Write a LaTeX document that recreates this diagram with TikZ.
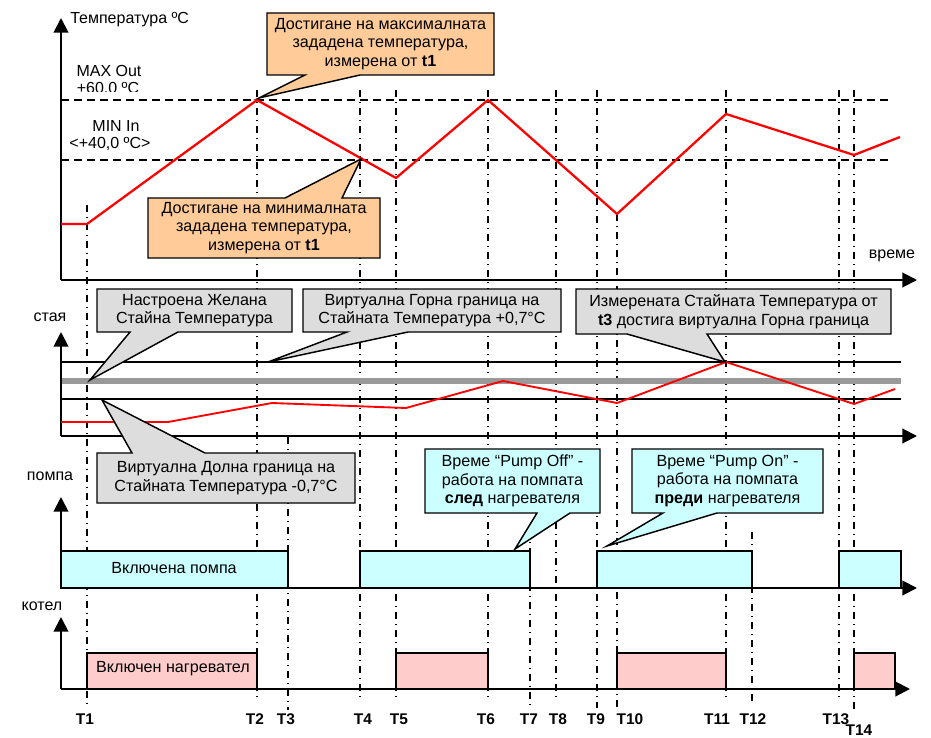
\documentclass[tikz,border=0pt]{standalone}
\usepackage{fontspec}
\setmainfont{Liberation Sans}
\usetikzlibrary{arrows.meta}
\definecolor{orangeF}{HTML}{FFCC99}
\definecolor{grayF}{HTML}{DDDDDD}
\definecolor{cyanF}{HTML}{CCFFFF}
\definecolor{pinkF}{HTML}{FFCCCC}
\definecolor{grayL}{HTML}{999999}
\definecolor{redL}{HTML}{FF0000}
\begin{document}
\begin{tikzpicture}[x=0.75pt,y=-0.75pt,
  axis/.style={line width=1.5pt,-{Triangle[length=11pt,width=11pt]}},
  hdash/.style={line width=1.1pt,dash pattern=on 6pt off 3.75pt},
  vline/.style={line width=1pt,dash pattern=on 5.5pt off 3.5pt on 1pt off 3.5pt},
  curve/.style={line width=1.7pt,redL,line join=round},
  callout/.style={line width=1.1pt,line join=miter},
  ctext/.style={align=center,font=\fontsize{12.1pt}{13.9pt}\selectfont,inner sep=0pt},
  lbl/.style={font=\fontsize{12pt}{13pt}\selectfont,inner sep=0pt},
  tlbl/.style={font=\fontsize{11.6pt}{12pt}\selectfont\bfseries,inner sep=0pt},
  boxline/.style={line width=1.1pt}
]
\useasboundingbox (0,0) rectangle (931,738);

% ---- vertical dash-dot time lines
\draw[vline] (87,205) -- (87,705);
\draw[vline] (257,90) -- (257,702);
\draw[vline] (288,437) -- (288,710);
\draw[vline] (360,90) -- (360,702);
\draw[vline] (396,90) -- (396,702);
\draw[vline] (488,90) -- (488,702);
\draw[vline] (530,530) -- (530,708);
\draw[vline] (556,90) -- (556,702);
\draw[vline] (597,90) -- (597,708);
\draw[vline] (617,214) -- (617,708);
\draw[vline] (726,90) -- (726,702);
\draw[vline] (752,532) -- (752,702);
\draw[vline] (839,90) -- (839,702);
\draw[vline] (854,90) -- (854,710);

% ---- top chart
\coordinate (o1) at (61,280);
\coordinate (y1) at (61,18);
\coordinate (x1) at (917,280);
\draw[hdash] (61,100) -- (893,100);
\draw[hdash] (61,160) -- (893,160);
\draw[axis] (o1) -- (y1);
\draw[axis] (o1) -- (x1);
\draw[curve] (61,224) -- (87,224) -- (257,100) -- (396,178) -- (488,100) -- (617,214) -- (726,114) -- (854,155) -- (900,137);

\node[lbl,anchor=west] (tlab) at (70,20) {Температура ºC};
\node[lbl] (maxa) at (109,71) {MAX Out};
\begin{scope}
\clip (60,60) rectangle (160,92);
\node[lbl] (maxb) at (108,89) {+60,0 ºC};
\end{scope}
\node[lbl] (mina) at (116,126) {MIN In};
\node[lbl] (minb) at (110,144) {<+40,0 ºC>};
\node[lbl] (vreme) at (892,256) {време};

% orange callouts
\draw[callout,fill=orangeF] (267,13) -- (494,13) -- (494,75) -- (360,75) -- (259,98) -- (305,75) -- (267,75) -- cycle;
\node[ctext] (c1) at (380.5,44) {Достигане на максималната\\зададена температура,\\измерена от \textbf{t1}};
\draw[callout,fill=orangeF] (148,198) -- (285,198) -- (361,159) -- (342,198) -- (380,198) -- (380,258) -- (148,258) -- cycle;
\node[ctext] (c2) at (264,228) {Достигане на минималната\\зададена температура,\\измерена от \textbf{t1}};

% ---- middle chart (room)
\coordinate (o2) at (61,436);
\coordinate (y2) at (61,332);
\coordinate (x2) at (917,436);
\draw[line width=1.5pt] (61,362) -- (901,362);
\draw[line width=4.5pt,grayL] (61,381) -- (901,381);
\draw[line width=1.5pt] (61,399) -- (901,399);
\draw[axis] (o2) -- (y2);
\draw[axis] (o2) -- (x2);
\draw[curve,line width=1.4pt] (61,422) -- (168,422) -- (272,403) -- (406,408) -- (503,381) -- (617,403) -- (726,362) -- (854,404) -- (895,389);
\node[lbl] (staya) at (50,317) {стая};

\draw[callout,fill=grayF] (97,289) -- (292,289) -- (292,332) -- (178,332) -- (90,380) -- (130,332) -- (97,332) -- cycle;
\node[ctext] (c3) at (194.5,310.5) {Настроена Желана\\Стайна Температура};
\draw[callout,fill=grayF] (303,289) -- (561,289) -- (561,332) -- (408,332) -- (268,362) -- (347,332) -- (303,332) -- cycle;
\node[ctext] (c4) at (432,310.5) {Виртуална Горна граница на\\Стайната Температура +0,7°C};
\draw[callout,fill=grayF] (576,289) -- (891,289) -- (891,334) -- (707,334) -- (725,362) -- (627,334) -- (576,334) -- cycle;
\node[ctext] (c5) at (733.5,311.5) {Измерената Стайната Температура от\\\textbf{t3} достига виртуална Горна граница};
\draw[callout,fill=grayF] (97,453) -- (132,453) -- (102,400) -- (205,453) -- (355,453) -- (355,503) -- (97,503) -- cycle;
\node[ctext] (c6) at (226,478) {Виртуална Долна граница на\\Стайната Температура -0,7°C};

% ---- pump chart
\node[lbl] (pompa) at (50,476) {помпа};
\draw[boxline,fill=cyanF] (61,551) rectangle (288,588);
\draw[boxline,fill=cyanF] (360,551) rectangle (530,588);
\draw[boxline,fill=cyanF] (597,551) rectangle (752,588);
\draw[boxline,fill=cyanF] (839,551) rectangle (901,588);
\node[ctext] (pon) at (174,568) {Включена помпа};
\coordinate (o3) at (61,588);
\coordinate (y3) at (61,497);
\coordinate (x3) at (917,588);
\draw[axis] (o3) -- (y3);
\draw[axis] (o3) -- (x3);

\draw[callout,fill=cyanF] (425,449) -- (600,449) -- (600,513) -- (570,513) -- (515,549) -- (537,513) -- (425,513) -- cycle;
\node[ctext] (c7) at (512.5,481) {Време “Pump Off” -\\работа на помпата\\\textbf{след} нагревателя};
\draw[callout,fill=cyanF] (632,449) -- (823,449) -- (823,513) -- (717,513) -- (607,546) -- (663,513) -- (632,513) -- cycle;
\node[ctext] (c8) at (727.5,481) {Време “Pump On” -\\работа на помпата\\\textbf{преди} нагревателя};

% ---- boiler chart
\node[lbl] (kotel) at (42,606) {котел};
\draw[boxline,fill=pinkF] (87,653) rectangle (257,689);
\draw[boxline,fill=pinkF] (396,653) rectangle (488,689);
\draw[boxline,fill=pinkF] (617,653) rectangle (726,689);
\draw[boxline,fill=pinkF] (854,653) rectangle (895,689);
\node[ctext] (hon) at (173,669) {Включен нагревател};
\coordinate (o4) at (61,689);
\coordinate (y4) at (61,617);
\coordinate (x4) at (910,689);
\draw[axis] (o4) -- (y4);
\draw[axis] (o4) -- (x4);

% ---- time labels
\node[tlbl] (T1) at (85,719) {T1};
\node[tlbl] (T2) at (255,719) {T2};
\node[tlbl] (T3) at (286,719) {T3};
\node[tlbl] (T4) at (363,719) {T4};
\node[tlbl] (T5) at (399,719) {T5};
\node[tlbl] (T6) at (486,719) {T6};
\node[tlbl] (T7) at (529,719) {T7};
\node[tlbl] (T8) at (558,719) {T8};
\node[tlbl] (T9) at (596,719) {T9};
\node[tlbl] (T10) at (630,719) {T10};
\node[tlbl] (T11) at (717,719) {T11};
\node[tlbl] (T12) at (753,719) {T12};
\node[tlbl] (T13) at (836,719) {T13};
\node[tlbl] (T14) at (859,730) {T14};
\end{tikzpicture}
\end{document}
